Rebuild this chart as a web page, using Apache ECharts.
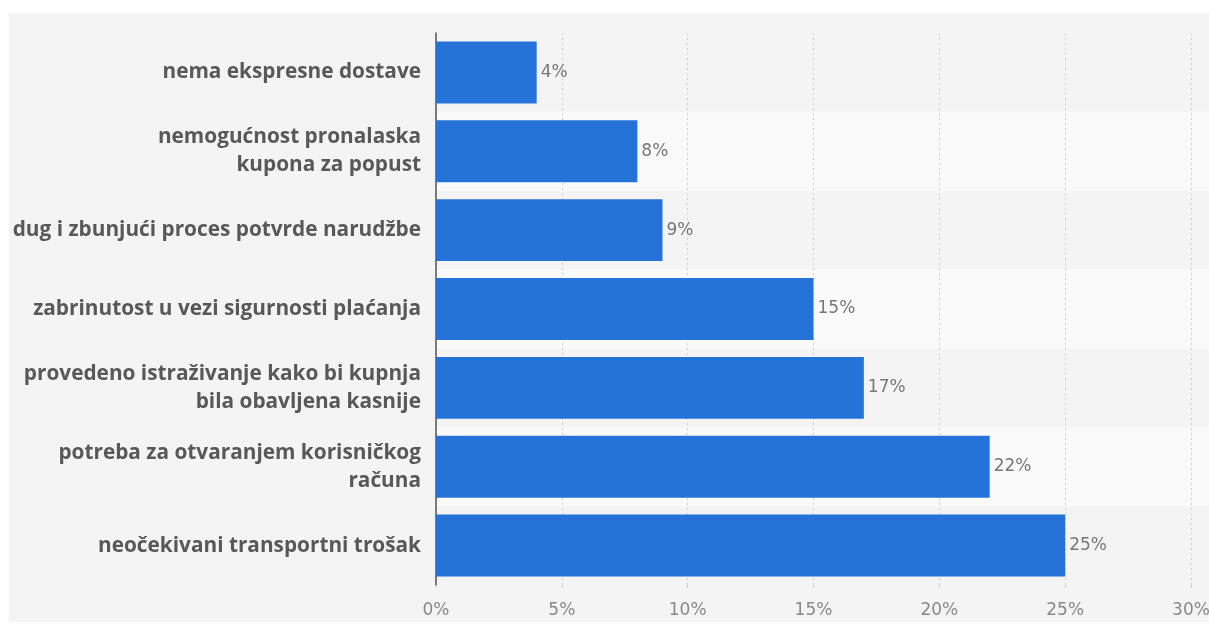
<!DOCTYPE html>
<html><head><meta charset="utf-8">
<script src="https://cdn.jsdelivr.net/npm/echarts@6/dist/echarts.min.js"></script>
<style>html,body{margin:0;padding:0;background:#fff}#c{position:absolute;left:9px;top:13px;width:1200px;height:609px;background:#f4f4f4}</style>
</head><body><div id="c"></div>
<script>
const categories = [
  'nema ekspresne dostave',
  'nemogućnost pronalaska\nkupona za popust',
  'dug i zbunjući proces potvrde narudžbe',
  'zabrinutost u vezi sigurnosti plaćanja',
  'provedeno istraživanje kako bi kupnja\nbila obavljena kasnije',
  'potreba za otvaranjem korisničkog\nračuna',
  'neočekivani transportni trošak'
];
const values = [4, 8, 9, 15, 17, 22, 25];
const tickValues = [0, 5, 10, 15, 20, 25, 30];

const chart = echarts.init(document.getElementById('c'), null, {renderer: 'canvas'});
const gTop = 20, gBottom = 37, gLeft = 427;
chart.setOption({
  backgroundColor: '#f4f4f4',
  animation: false,
  grid: [
    {left: gLeft, right: 0, top: gTop, bottom: gBottom, outerBoundsMode: 'none', containLabel: false},
    {left: gLeft, right: 18, top: gTop, bottom: gBottom, outerBoundsMode: 'none', containLabel: false}
  ],
  xAxis: [
    {gridIndex: 0, type: 'value', min: 0, max: 30, show: false},
    {gridIndex: 1, type: 'value', min: 0, max: 30, interval: 5,
     axisLine: {show: false},
     axisTick: {show: true, length: 3, lineStyle: {color: '#ccc'}},
     splitLine: {show: true, lineStyle: {color: '#d0d0d0', type: [2, 3], width: 1}},
     axisLabel: {formatter: v => tickValues.includes(v) ? v + '%' : '', color: '#888', fontSize: 17,
       fontFamily: 'DejaVu Sans', margin: 17}}
  ],
  yAxis: [
    {gridIndex: 0, type: 'category', data: categories, inverse: true,
     axisLine: {show: false}, axisTick: {show: false}, axisLabel: {show: false},
     splitArea: {show: true, areaStyle: {color: ['rgba(0,0,0,0)', '#fafafa']}}},
    {gridIndex: 1, type: 'category', data: categories, inverse: true,
     axisLine: {show: true, lineStyle: {color: '#555', width: 1.5}},
     axisTick: {show: false},
     axisLabel: {color: '#585858', fontSize: 20.8, fontWeight: 'bold', fontFamily: 'Open Sans',
       margin: 15, lineHeight: 28, align: 'right'}}
  ],
  series: [{
    type: 'bar', xAxisIndex: 1, yAxisIndex: 1, data: values, barWidth: '78.5%',
    itemStyle: {color: '#2573d9'},
    label: {show: true, position: 'right', formatter: '{c}%', color: '#777', fontSize: 17,
      fontFamily: 'DejaVu Sans', distance: 4}
  }]
});
</script></body></html>
